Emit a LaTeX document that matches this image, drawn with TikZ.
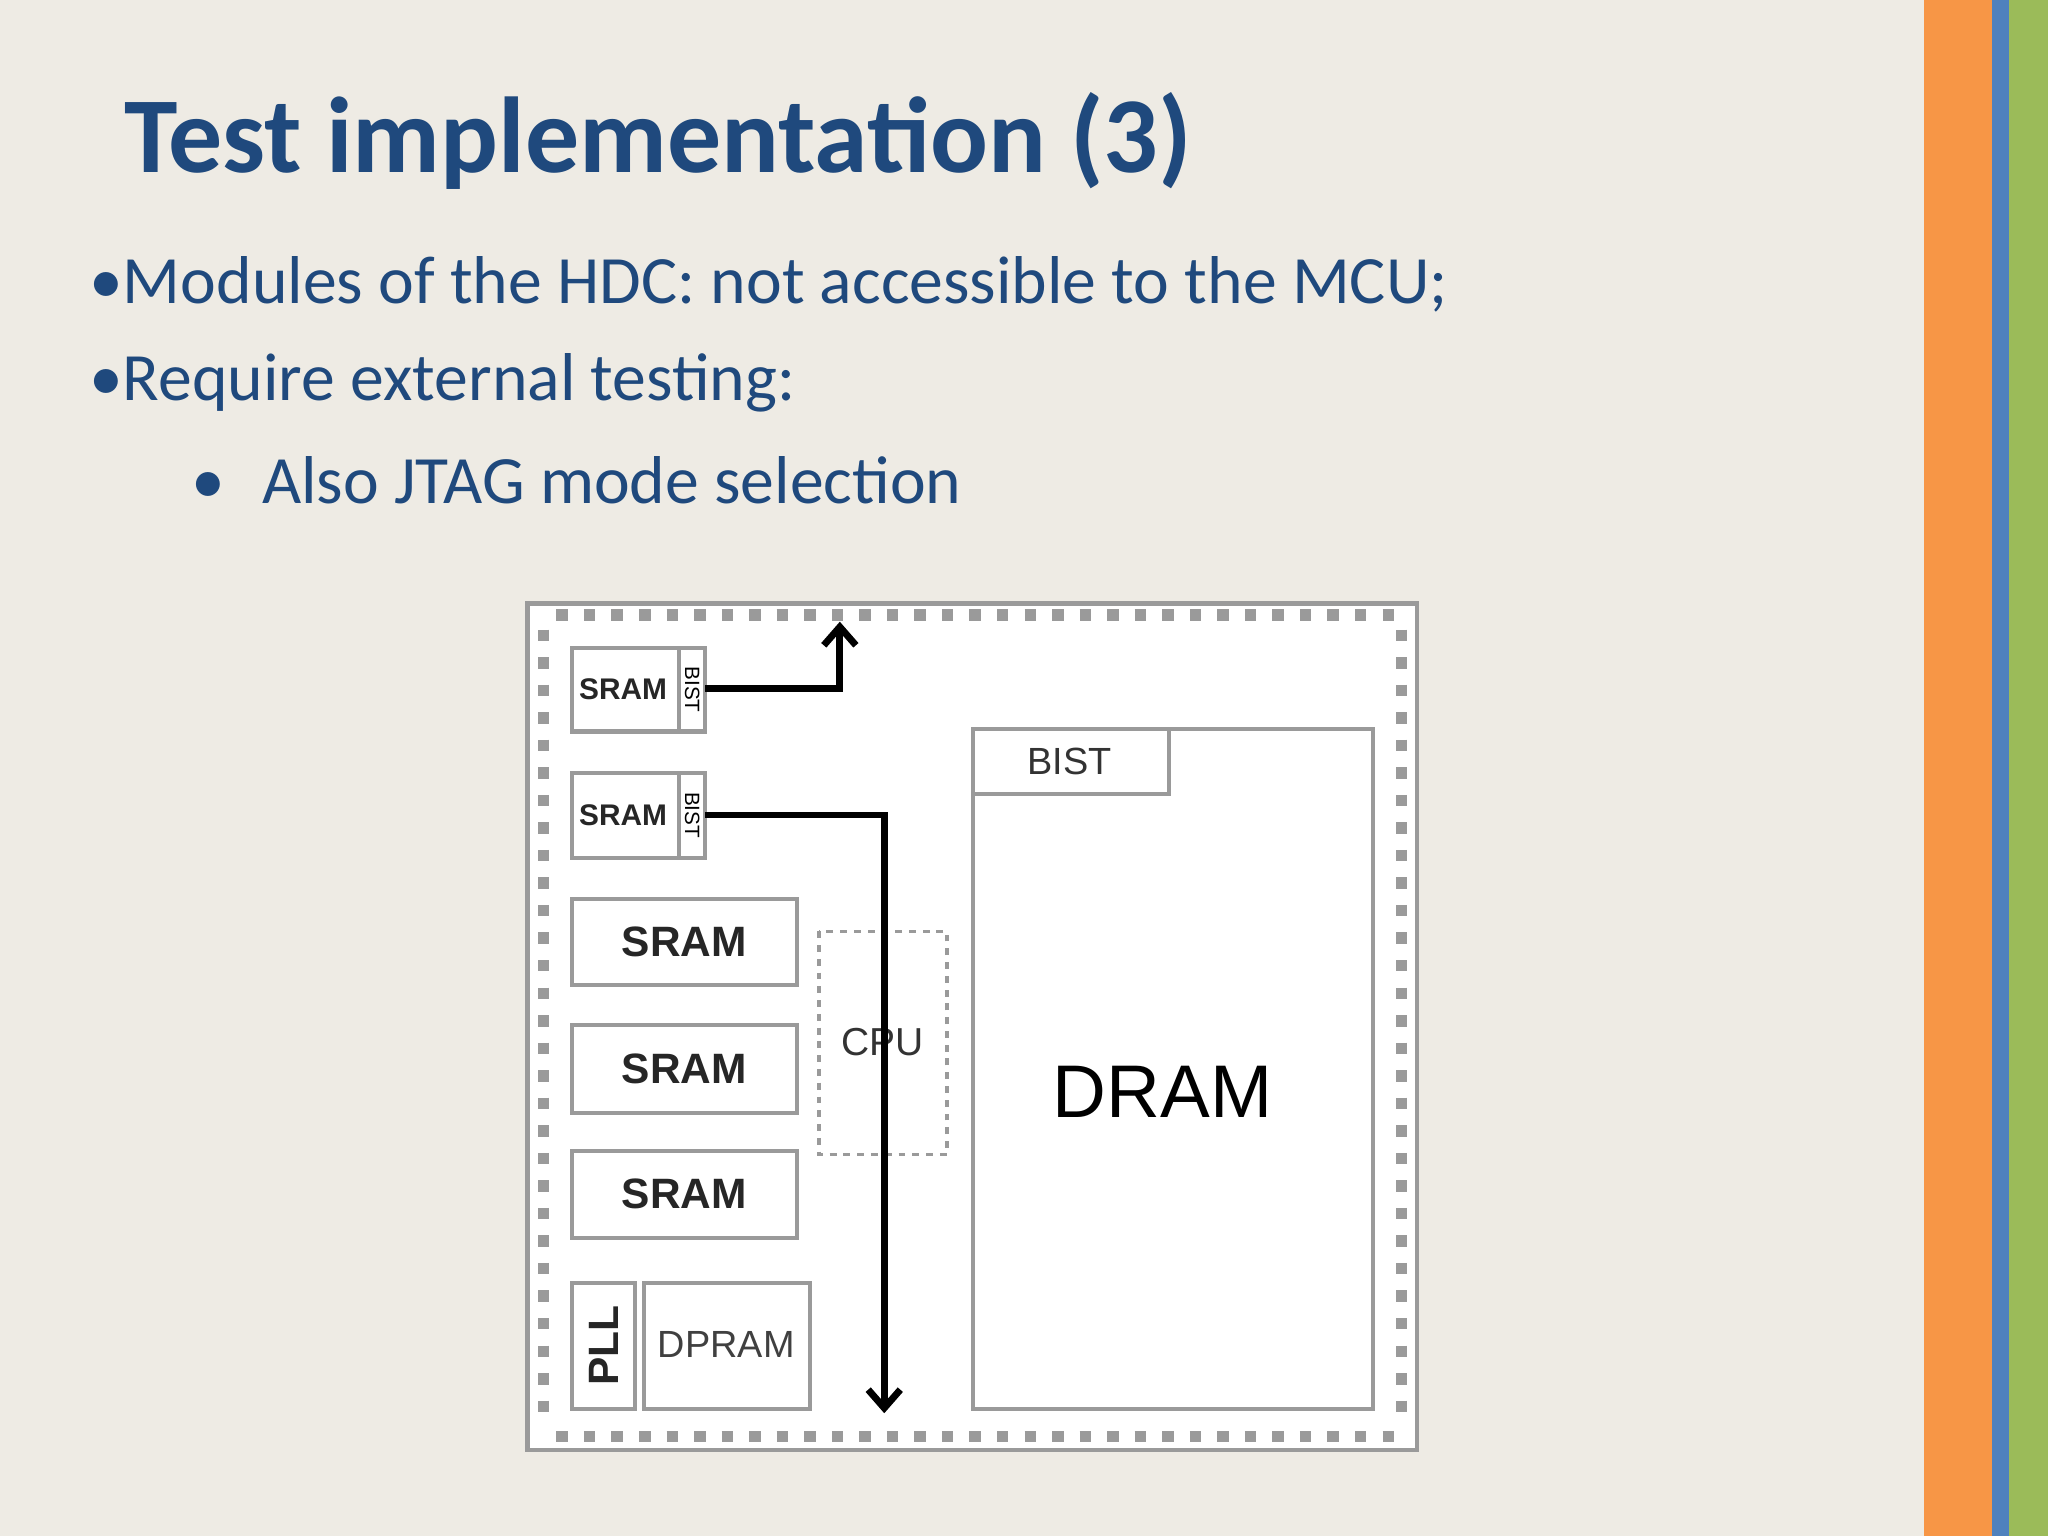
\documentclass[tikz,border=0pt]{standalone}
\usepackage{fontspec}
\setmainfont{Carlito}
\newfontfamily\arialf{Liberation Sans}
\usetikzlibrary{arrows.meta}
\definecolor{bg}{HTML}{EEEBE4}
\definecolor{ttl}{HTML}{1F497D}
\definecolor{orng}{HTML}{F79646}
\definecolor{blu}{HTML}{4F81BD}
\definecolor{grn}{HTML}{9BBB59}
\definecolor{gbox}{HTML}{9A9A9A}
\tikzset{
  px/.style={x=0.02cm,y=-0.02cm},
  blk/.style={draw=gbox,line width=1.8pt,fill=white},
  pad/.style={draw=gbox,line width=5pt,dash pattern=on 5pt off 7pt},
  wire/.style={draw=black,line width=3pt},
  lbl/.style={font=\arialf\bfseries\fontsize{18.5}{18.5}\selectfont,text=black!85},
  btxt/.style={anchor=west,text=ttl,font=\fontsize{29.5}{29.5}\selectfont,inner sep=0pt}
}
\begin{document}
\begin{tikzpicture}[px]
\fill[bg] (0,0) rectangle (1568,1176);
\fill[orng] (1473,0) rectangle (1525,1176);
\fill[blu] (1525,0) rectangle (1538,1176);
\fill[grn] (1538,0) rectangle (1568,1176);
\node[anchor=west,inner sep=0pt,text=ttl,font=\bfseries\fontsize{47}{47}\selectfont] (title) at (95,108) {Test implementation (3)};
\node[btxt] (b1) at (68,218) {•Modules of the HDC: not accessible to the MCU;};
\node[btxt] (b2) at (68,293) {•Require external testing:};
\node[btxt] (b3) at (146,368) {•\hspace{0.55em}Also JTAG mode selection};
% chip
\draw[draw=gbox,line width=2pt,fill=white] (404,462) rectangle (1085,1110);
\draw[pad] (426,471) -- (1068,471);
\draw[pad] (426,1100) -- (1068,1100);
\draw[pad] (416,482) -- (416,1092);
\draw[pad] (1073,482) -- (1073,1092);
% small srams
\draw[blk] (438,496) rectangle (540,560);
\draw[blk] (520,496) rectangle (540,560);
\node[lbl,font=\arialf\bfseries\fontsize{13}{13}\selectfont] (s1) at (477,528) {SRAM};
\node[rotate=-90,font=\arialf\fontsize{9}{9}\selectfont] (bi1) at (530,528) {BIST};
\draw[blk] (438,592) rectangle (540,657);
\draw[blk] (520,592) rectangle (540,657);
\node[lbl,font=\arialf\bfseries\fontsize{13}{13}\selectfont] (s2) at (477,624) {SRAM};
\node[rotate=-90,font=\arialf\fontsize{9}{9}\selectfont] (bi2) at (530,624) {BIST};
% srams
\draw[blk] (438,688) rectangle (610,754); \node[lbl] (s3) at (524,721) {SRAM};
\draw[blk] (438,785) rectangle (610,852); \node[lbl] (s4) at (524,818) {SRAM};
\draw[blk] (438,881) rectangle (610,948); \node[lbl] (s5) at (524,914) {SRAM};
\draw[blk] (438,982) rectangle (486,1079); \node[lbl,rotate=90] (pll) at (462,1030) {PLL};
\draw[blk] (493,982) rectangle (620,1079); \node[font=\arialf\fontsize{16.5}{16.5}\selectfont,text=black!75] (dp) at (556,1029) {DPRAM};
% cpu
\draw[draw=gbox,line width=1.5pt,dashed] (627,713) rectangle (725,884);
\node[font=\arialf\fontsize{17}{17}\selectfont,text=black!80] (cpu) at (676,798) {CPU};
% dram
\draw[blk] (745,558) rectangle (1051,1079);
\draw[blk] (745,558) rectangle (895,608);
\node[font=\arialf\fontsize{16.5}{16.5}\selectfont,text=black!80] (bist) at (819,583) {BIST};
\node[font=\arialf\fontsize{32.5}{32.5}\selectfont] (dram) at (890,836) {DRAM};
% wires
\coordinate (o1) at (540,527); \coordinate (e1) at (643,476);
\coordinate (o2) at (540,624); \coordinate (e2) at (677,1082);
\draw[wire,-{Straight Barb[length=8pt,width=14pt]}] (o1) -| (e1);
\draw[wire,-{Straight Barb[length=8pt,width=14pt]}] (o2) -| (e2);
\end{tikzpicture}
\end{document}
